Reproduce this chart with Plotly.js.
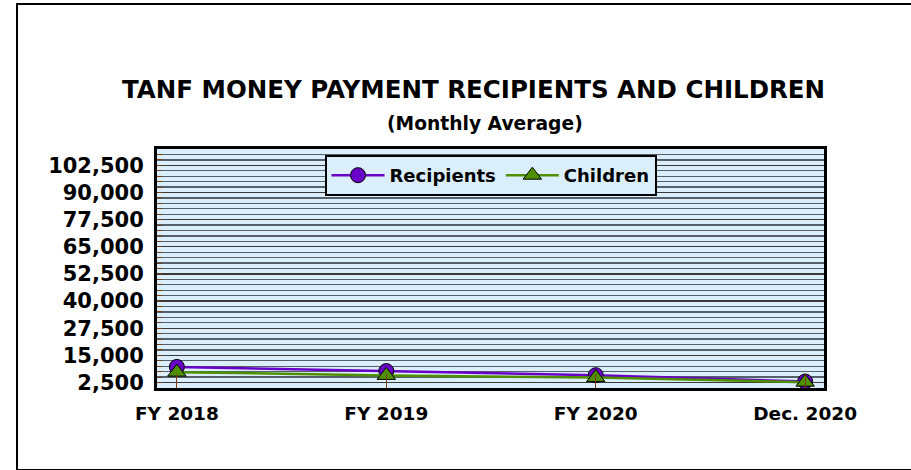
<!DOCTYPE html>
<html>
<head>
<meta charset="utf-8">
<script src="https://cdn.plot.ly/plotly-3.0.1.min.js"></script>
<style>
  html, body { margin: 0; padding: 0; background: #ffffff; }
  #wrap { position: relative; width: 911px; height: 470px; overflow: hidden; }
  #frame { position: absolute; left: 16px; top: 3px; width: 1000px; height: 464px; border: 2px solid #000; box-sizing: content-box; pointer-events: none; }
  #chart { position: absolute; left: 0; top: 0; width: 911px; height: 470px; }
</style>
</head>
<body>
<div id="wrap">
  <div id="chart"></div>
  <div id="frame"></div>
</div>
<script>
const categories = ["FY 2018", "FY 2019", "FY 2020", "Dec. 2020"];
const recipients = [9700, 7800, 5900, 3000];
const children = [7300, 5800, 4800, 2700];
const yTickVals = [2500, 15000, 27500, 40000, 52500, 65000, 77500, 90000, 102500];
const yTickText = ["2,500", "15,000", "27,500", "40,000", "52,500", "65,000", "77,500", "90,000", "102,500"];
const titleText = "TANF MONEY PAYMENT RECIPIENTS AND CHILDREN";
const subtitleText = "(Monthly Average)";

const FONT = "'DejaVu Sans', Arial, sans-serif";

const traces = [
  {
    x: categories, y: recipients, name: "Recipients", type: "scatter", mode: "lines+markers",
    line: { color: "#6a00c8", width: 2.5 },
    marker: { symbol: "circle", size: 15, color: "#6a00c8", line: { color: "#000", width: 1 } }
  },
  {
    x: categories, y: children, name: "Children", type: "scatter", mode: "lines+markers",
    line: { color: "#4f9000", width: 2.5 },
    marker: { symbol: "triangle-up", size: 16, color: "#4f9000", line: { color: "#000", width: 1 } }
  }
];

const layout = {
  width: 911, height: 470,
  margin: { l: 157, r: 87, t: 149, b: 82 },
  paper_bgcolor: "rgba(0,0,0,0)",
  plot_bgcolor: "#dbeefb",
  font: { family: FONT, color: "#000" },
  showlegend: true,
  legend: {
    orientation: "h", x: 0.5, xanchor: "center", y: 0.975, yanchor: "top",
    bgcolor: "#dbeefb", bordercolor: "#000", borderwidth: 2,
    font: { family: FONT, size: 18, color: "#000", weight: "bold" },
    itemwidth: 53
  },
  xaxis: {
    type: "category",
    range: [-0.095, 3.09],
    showgrid: false, zeroline: false,
    showline: true, linecolor: "#000", linewidth: 3, mirror: true,
    ticks: "inside", ticklen: 14, tickcolor: "#7a3a10", tickwidth: 1,
    tickfont: { family: FONT, size: 18.5, color: "#000", weight: "bold" },
    ticklabelstandoff: 7
  },
  yaxis: {
    range: [0, 110000],
    tickmode: "array", tickvals: yTickVals, ticktext: yTickText,
    showgrid: true, gridcolor: "#3a3a3a", gridwidth: 1.3,
    zeroline: false,
    showline: true, linecolor: "#000", linewidth: 3, mirror: true,
    ticks: "inside", ticklen: 5, tickcolor: "#7a3a10",
    tickfont: { family: FONT, size: 21, color: "#000", weight: "bold" },
    ticklabelstandoff: 6,
    minor: { dtick: 2500, tick0: 0, showgrid: true, gridcolor: "#55606a", gridwidth: 1.3, ticks: "inside", ticklen: 5, tickcolor: "#7a3a10" }
  },
  annotations: [
    { text: "<b>" + titleText + "</b>", xref: "paper", yref: "paper", x: 0.474, y: 1.251, xanchor: "center", yanchor: "middle",
      showarrow: false, font: { family: FONT, size: 24.5, color: "#000" } },
    { text: "<b>" + subtitleText + "</b>", xref: "paper", yref: "paper", x: 0.492, y: 1.105, xanchor: "center", yanchor: "middle",
      showarrow: false, font: { family: FONT, size: 18.7, color: "#000" } }
  ]
};

Plotly.newPlot("chart", traces, layout, { displayModeBar: false, staticPlot: true });
</script>
</body>
</html>
